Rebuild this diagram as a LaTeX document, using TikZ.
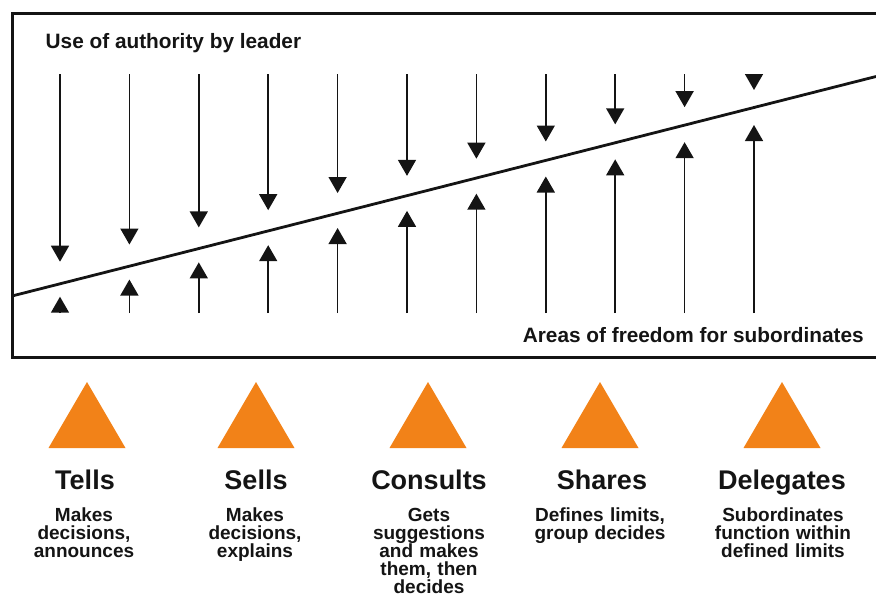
\documentclass[tikz,border=0pt]{standalone}
\usepackage{fontspec}
\setmainfont{Liberation Sans}
\usetikzlibrary{arrows.meta}
\definecolor{tri}{RGB}{242,130,24}
\definecolor{ink}{RGB}{20,20,20}
\begin{document}
\begin{tikzpicture}[x=1pt,y=-1pt,
  arr/.style={line width=1.5pt, draw=ink, -{Triangle[width=18pt,length=16pt]}},
  lab/.style={font=\bfseries\fontsize{20.8}{24}\selectfont, text=ink, inner sep=0pt},
  ttl/.style={font=\bfseries\fontsize{27}{30}\selectfont, text=ink, inner sep=0pt, anchor=base},
  dsc/.style={font=\bfseries\fontsize{19}{18.2}\selectfont, text=ink, inner sep=0pt, anchor=base, text width=170pt, align=center},
  orangetri/.style={fill=tri}]
\useasboundingbox (0,0) rectangle (876,598);
% frame
\draw[line width=3pt, draw=ink] (890,13) -- (12,13) -- (12,357) -- (890,357);
% diagonal
\coordinate (L0) at (12,296);
\coordinate (L1) at (876,76.5);
\draw[line width=2.8pt, draw=ink] (L0) -- (L1);
% arrows
\foreach \i in {0,...,10}{
  \pgfmathsetmacro\xx{60+69.4*\i}
  \pgfmathsetmacro\dt{261.7-17.17*\i}
  \pgfmathsetmacro\ut{296.7-17.17*\i}
  \coordinate (ds-\i) at (\xx,74);
  \coordinate (de-\i) at (\xx,\dt);
  \coordinate (us-\i) at (\xx,313);
  \coordinate (ue-\i) at (\xx,\ut);
  \draw[arr] (ds-\i) -- (de-\i);
  \draw[arr] (us-\i) -- (ue-\i);
}
% labels
\node[lab, anchor=base west] (auth) at (45.5,48.3) {Use of authority by leader};
\node[lab, anchor=base east] (free) at (864,342.7) {Areas of freedom for subordinates};
% triangles
\foreach \n/\cx in {1/87,2/256,3/428,4/600,5/782}{
  \coordinate (tb-\n) at (\cx,448);
  \fill[orangetri] ([xshift=-38.5pt]tb-\n) -- ([yshift=66pt]tb-\n) -- ([xshift=38.5pt]tb-\n) -- cycle;
}
% titles
\node[ttl] (t1) at (85,489.3) {Tells};
\node[ttl] (t2) at (256,489.3) {Sells};
\node[ttl] (t3) at (429,489.3) {Consults};
\node[ttl] (t4) at (602,489.3) {Shares};
\node[ttl] (t5) at (782,489.3) {Delegates};
% descriptions
\node[dsc] (d1) at (84,521) {Makes\\decisions,\\announces};
\node[dsc] (d2) at (255,521) {Makes\\decisions,\\explains};
\node[dsc] (d3) at (429,521) {Gets\\suggestions\\and makes\\them, then\\decides};
\node[dsc] (d4) at (600,521) {Defines limits,\\group decides};
\node[dsc] (d5) at (783,521) {Subordinates\\function within\\defined limits};
\end{tikzpicture}
\end{document}
